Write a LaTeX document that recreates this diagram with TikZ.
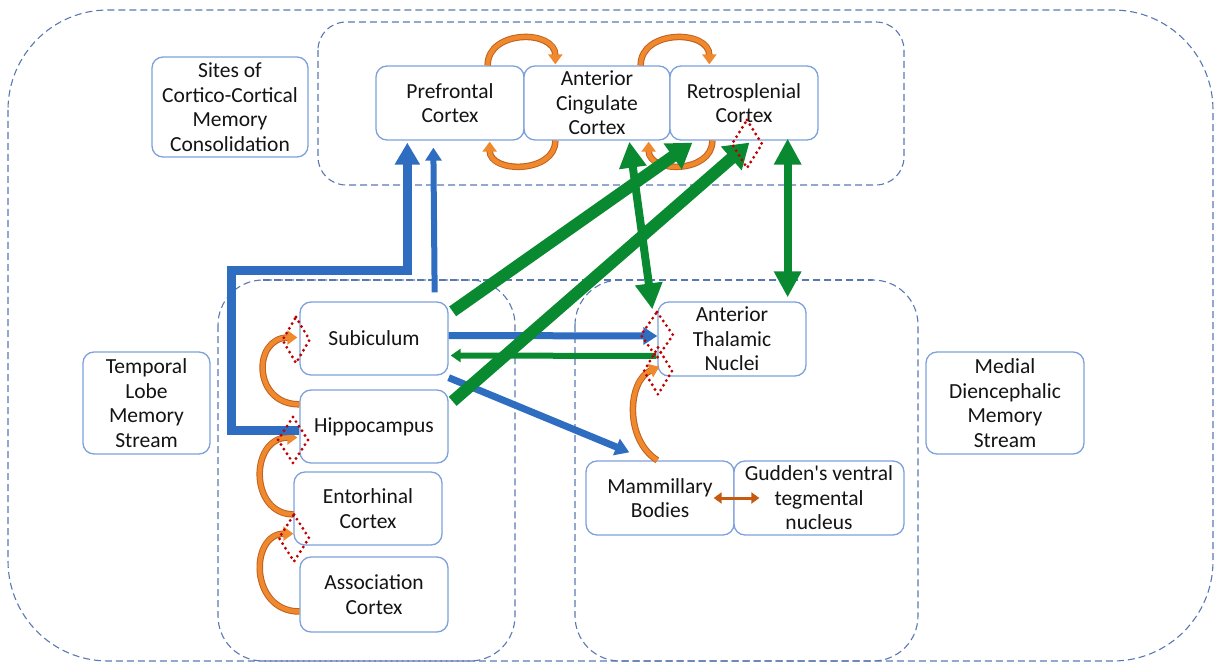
\documentclass[tikz,border=0pt]{standalone}
\usepackage{fontspec}
\setmainfont{Carlito}
\usetikzlibrary{arrows.meta,calc}
\definecolor{boxc}{HTML}{7DA1DC}
\definecolor{dashc}{HTML}{5A78B0}
\definecolor{bluec}{HTML}{2E6DC0}
\definecolor{greenc}{HTML}{0A8A30}
\definecolor{orl}{HTML}{F0892E}
\definecolor{ord}{HTML}{C0601E}
\definecolor{redc}{HTML}{C00000}
\definecolor{gudc}{HTML}{C55A11}
\newcommand\rdiam[4]{\draw[reddot] (#1,#2-#4/2) -- (#1+#3/2,#2) -- (#1,#2+#4/2) -- (#1-#3/2,#2) -- cycle;}
\begin{document}
\begin{tikzpicture}[x=1pt,y=-1pt,
  box/.style={draw=boxc, line width=1.3pt, rounded corners=11pt, fill=white, align=center,
    font=\fontsize{21.5}{24.5}\selectfont, text=black!92, inner sep=0pt},
  region/.style={draw=dashc, dash pattern=on 7pt off 4pt, line width=1.1pt},
  reddot/.style={draw=redc, dash pattern=on 0pt off 5.5pt, line width=3.2pt, line cap=round},
  oarc/.style={draw=orl, line width=4.5pt, -{Triangle[length=10pt,width=14pt]},
    preaction={draw=ord, line width=6.5pt, -, shorten >=9pt}},
  bluethick/.style={draw=bluec, line width=9pt, -{Triangle[length=22pt,width=24pt]}},
  bluemid/.style={draw=bluec, line width=6pt, -{Triangle[length=13pt,width=16pt]}},
  bluearr/.style={draw=bluec, line width=7pt, -{Triangle[length=14pt,width=17pt]}},
  greenthick/.style={draw=greenc, line width=12pt, -{Triangle[length=24pt,width=30pt]}},
  greenthin/.style={draw=greenc, line width=6pt, -{Triangle[length=10pt,width=13pt]}},
  greendbl/.style={draw=greenc, line width=8pt, {Triangle[length=26pt,width=26pt]}-{Triangle[length=26pt,width=26pt]}},
  guddbl/.style={draw=gudc, line width=3pt, {Triangle[length=8pt,width=11pt]}-{Triangle[length=8pt,width=11pt]}}
]
\useasboundingbox (0,0) rectangle (1216,663);
% regions
\draw[region, rounded corners=100pt] (8,10) rectangle (1213,661);
\draw[region, rounded corners=28pt] (318,22) rectangle (904,185);
\draw[region, rounded corners=45pt] (218,280) rectangle (515,661);
\draw[region, rounded corners=45pt] (575,280) rectangle (918,661);
\draw[region] (263,280) -- (873,280);
% nodes
\node[box, minimum width=156pt, minimum height=100pt] (sites) at (230,107) {Sites of\\Cortico-Cortical\\Memory\\Consolidation};
\node[box, minimum width=148pt, minimum height=74pt] (pfc) at (450,103) {Prefrontal\\Cortex};
\node[box, minimum width=146pt, minimum height=74pt] (acc) at (597,103) {Anterior\\Cingulate\\Cortex};
\node[box, minimum width=148pt, minimum height=74pt] (rsc) at (744,103) {Retrosplenial\\Cortex};
\node[box, minimum width=127pt, minimum height=102pt] (tl) at (146.5,403) {Temporal\\Lobe\\Memory\\Stream};
\node[box, minimum width=148pt, minimum height=73pt] (sub) at (374,338.5) {Subiculum};
\node[box, minimum width=148pt, minimum height=73pt] (hip) at (374,426.5) {Hippocampus};
\node[box, minimum width=148pt, minimum height=73pt] (ent) at (368,508.5) {Entorhinal\\Cortex};
\node[box, minimum width=148pt, minimum height=75pt] (asc) at (374,594.5) {Association\\Cortex};
\node[box, minimum width=148pt, minimum height=74pt] (atn) at (732,339) {Anterior\\Thalamic\\Nuclei};
\node[box, minimum width=148pt, minimum height=74pt] (mam) at (660,498) {Mammillary\\Bodies};
\node[box, minimum width=170pt, minimum height=74pt] (gud) at (819,498) {Gudden\textquotesingle s ventral\\tegmental\\nucleus};
\node[box, minimum width=158pt, minimum height=102pt] (mds) at (1005,403) {Medial\\Diencephalic\\Memory\\Stream};
% orange curved arrows
\draw[oarc] ($(pfc.north east)+(-37,0)$) .. controls ($(pfc.north east)+(-37,-36)$) and ($(acc.north west)+(32,-36)$) .. ($(acc.north west)+(32,-1)$);
\draw[oarc] ($(acc.north east)+(-30,0)$) .. controls ($(acc.north east)+(-30,-36)$) and ($(rsc.north west)+(40,-36)$) .. ($(rsc.north west)+(40,-1)$);
\draw[oarc] ($(acc.south west)+(32,0)$) .. controls ($(acc.south west)+(32,33)$) and ($(pfc.south east)+(-35,33)$) .. ($(pfc.south east)+(-35,1)$);
\draw[oarc] ($(rsc.south west)+(43,0)$) .. controls ($(rsc.south west)+(43,33)$) and ($(acc.south east)+(-22,33)$) .. ($(acc.south east)+(-22,1)$);
\draw[oarc] ($(hip.north west)+(0,15)$) .. controls ($(hip.north west)+(-47,15)$) and ($(sub.west)+(-47,-1)$) .. ($(sub.west)+(-2,-1)$);
\draw[oarc] ($(ent.north west)+(0,43)$) .. controls ($(ent.north west)+(-44,43)$) and ($(hip.west)+(-50,11)$) .. ($(hip.west)+(-2,11)$);
\draw[oarc] ($(asc.west)+(0,17)$) .. controls ($(asc.west)+(-50,17)$) and ($(ent.south west)+(-44,-12)$) .. ($(ent.south west)+(0,-12)$);
\draw[oarc] ($(mam.north west)+(72,0)$) .. controls ($(mam.north west)+(39,-21)$) and ($(atn.south west)+(-30,4)$) .. ($(atn.south west)+(2,-10)$);
% blue arrows
\coordinate (pa) at ($(pfc.south west)+(32,2)$);
\coordinate (elb) at ($(pfc.south west)+(32,130)$);
\draw[bluethick, line join=miter] ($(hip.west)+(0,4)$) -- ++(-68,0) |- (elb) -- (pa);
\draw[bluemid] ($(sub.north east)+(-14,-9)$) -- ($(pfc.south west)+(58,7)$);
\draw[bluearr] ($(sub.east)+(0,-3)$) -- ($(atn.west)+(0,-3)$);
\draw[bluearr] ($(sub.south east)+(0,2)$) -- ($(mam.north west)+(44,-8)$);
% green arrows
\draw[greenthick] ($(sub.north east)+(4,10)$) -- ($(rsc.south west)+(23,2)$);
\draw[greenthick] ($(hip.north east)+(4,12)$) -- ($(rsc.south west)+(80,2)$);
\draw[greenthin] ($(atn.west)+(-1,17)$) -- ($(sub.east)+(2,17)$);
\draw[greendbl] ($(acc.south west)+(106,1)$) -- ($(atn.north west)+(-5,8)$);
\draw[greendbl] ($(rsc.south east)+(-31,-2)$) -- ($(atn.north east)+(-19,-4)$);
\draw[guddbl] ($(mam.east)+(-21,0)$) -- ($(gud.west)+(26,0)$);
% red dotted diamonds
\rdiam{296}{340}{27}{46}
\rdiam{293}{440}{30}{46}
\rdiam{294}{538}{30}{47}
\rdiam{657}{335}{32}{46}
\rdiam{658}{371}{28}{47}
\rdiam{747}{144}{30}{48}
\end{tikzpicture}
\end{document}
